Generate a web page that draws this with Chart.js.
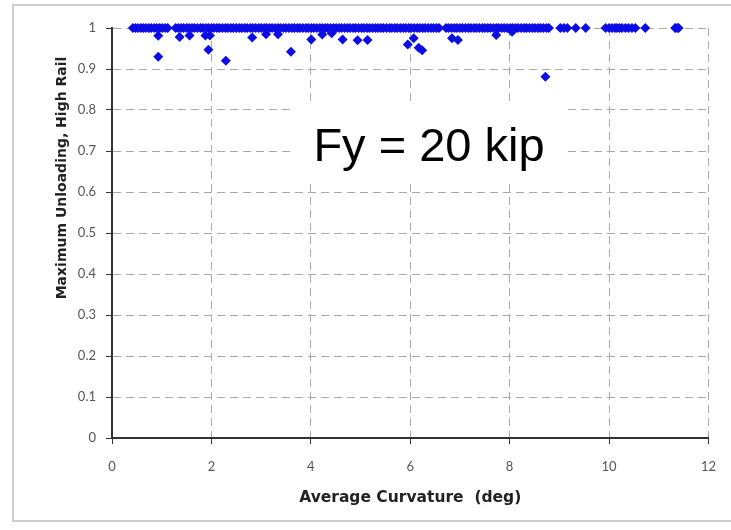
<!DOCTYPE html>
<html>
<head>
<meta charset="utf-8">
<title>Maximum Unloading vs Average Curvature</title>
<script src="https://cdn.jsdelivr.net/npm/chart.js@4.4.1/dist/chart.umd.min.js"></script>
<style>
  html, body { margin: 0; padding: 0; background: #fff; }
  canvas { display: block; }
</style>
</head>
<body>
<canvas id="unloadChart" width="731" height="530"></canvas>
<script>
'use strict';

// curvature (deg) of the runs that stayed at full unloading (1.0)
var bandCurv = [
  0.42, 0.47, 0.52, 0.58, 0.63, 0.68, 0.74, 0.79, 0.85, 0.90, 0.96, 1.01, 1.07, 1.12,
  1.28, 1.33, 1.39, 1.44, 1.50, 1.55, 1.61, 1.66, 1.72, 1.78, 1.83, 1.89, 1.94, 2.00,
  2.05, 2.11, 2.16, 2.22, 2.28, 2.33, 2.39, 2.44, 2.50, 2.56, 2.61, 2.67, 2.72, 2.78,
  2.83, 2.89, 2.95, 3.00, 3.06, 3.11, 3.17, 3.22, 3.28, 3.34, 3.39, 3.45, 3.50, 3.56,
  3.62, 3.67, 3.73, 3.78, 3.84, 3.90, 3.95, 4.01, 4.06, 4.12, 4.18, 4.23, 4.29, 4.34,
  4.40, 4.46, 4.51, 4.57, 4.62, 4.68, 4.74, 4.79, 4.85, 4.90, 4.96, 5.02, 5.07, 5.13,
  5.18, 5.24, 5.30, 5.35, 5.41, 5.46, 5.52, 5.58, 5.63, 5.69, 5.74, 5.80, 5.86, 5.91,
  5.97, 6.02, 6.08, 6.14, 6.19, 6.25, 6.30, 6.36, 6.42, 6.47, 6.53, 6.58, 6.72, 6.77,
  6.83, 6.89, 6.94, 7.00, 7.05, 7.11, 7.17, 7.22, 7.28, 7.33, 7.39, 7.45, 7.50, 7.56,
  7.61, 7.67, 7.73, 7.78, 7.84, 7.89, 7.95, 8.01, 8.06, 8.12, 8.17, 8.23, 8.29, 8.34,
  8.40, 8.46, 8.51, 8.57, 8.62, 8.68, 8.74, 8.79, 9.02, 9.09, 9.16, 9.33, 9.53, 9.93,
  10.00, 10.06, 10.12, 10.16, 10.21, 10.26, 10.33, 10.39, 10.46, 10.53, 10.73, 11.33,
  11.37, 11.40
];
var bandUnload = 1;

// runs that dropped below 1.0
var lowCurv = [
  0.93, 0.93, 1.36, 1.56, 1.88, 1.97, 1.94, 2.29, 2.82, 3.10, 3.34, 3.60, 4.01, 4.23,
  4.42, 4.64, 4.94, 5.14, 5.95, 6.07, 6.17, 6.24, 6.84, 6.96, 7.73, 8.05, 8.72
];
var lowUnload = [
  0.981, 0.930, 0.978, 0.982, 0.982, 0.982, 0.947, 0.920, 0.977, 0.985, 0.985, 0.942, 0.972, 0.984,
  0.987, 0.972, 0.970, 0.971, 0.960, 0.975, 0.952, 0.946, 0.975, 0.971, 0.983, 0.991, 0.881
];

var xTickLabels = ['0', '2', '4', '6', '8', '10', '12'];
var yTickLabels = ['0', '0.1', '0.2', '0.3', '0.4', '0.5', '0.6', '0.7', '0.8', '0.9', '1'];
var xTitle = 'Average Curvature  (deg)';
var yTitle = 'Maximum Unloading, High Rail';
var noteText = 'Fy = 20 kip';

var points = [];
for (var i = 0; i < bandCurv.length; i++) {
  points.push({x: bandCurv[i], y: bandUnload});
}
for (var j = 0; j < lowCurv.length; j++) {
  points.push({x: lowCurv[j], y: lowUnload[j]});
}

var tickFont = {family: 'Lato', size: 13};
var tickColor = '#555';
var gridColor = '#aaa';
var axisColor = '#333';

// outer frame, the white note box and the rotated y title
var extras = {
  id: 'extras',
  beforeDraw: function(chart) {
    var ctx = chart.ctx;
    ctx.save();
    ctx.fillStyle = '#fff';
    ctx.fillRect(0, 0, chart.width, chart.height);
    ctx.strokeStyle = '#cdcdcd';
    ctx.lineWidth = 2;
    ctx.strokeRect(13, 5, 760, 516);
    ctx.restore();
  },
  beforeDatasetsDraw: function(chart) {
    var ctx = chart.ctx;
    ctx.save();
    ctx.fillStyle = '#fff';
    ctx.fillRect(290, 103, 278, 77);
    ctx.fillStyle = '#000';
    ctx.font = '47px "Liberation Sans", Arial, sans-serif';
    ctx.textAlign = 'center';
    ctx.textBaseline = 'alphabetic';
    ctx.fillText(noteText, 429, 161);
    ctx.restore();
  },
  afterDraw: function(chart) {
    var ctx = chart.ctx;
    ctx.save();
    ctx.translate(62, 178);
    ctx.rotate(-Math.PI / 2);
    ctx.fillStyle = '#222';
    ctx.font = 'bold 14px "DejaVu Sans", sans-serif';
    ctx.textAlign = 'center';
    ctx.textBaseline = 'middle';
    ctx.fillText(yTitle, 0, 0);
    ctx.restore();
  }
};

var ctx = document.getElementById('unloadChart').getContext('2d');
var chart = new Chart(ctx, {
  type: 'scatter',
  data: {
    datasets: [{
      label: 'High rail',
      data: points,
      clip: false,
      pointStyle: 'rectRot',
      pointRadius: 5,
      pointBorderWidth: 0,
      backgroundColor: '#0c0ce6',
      borderColor: '#0c0ce6'
    }]
  },
  options: {
    responsive: false,
    devicePixelRatio: 1,
    animation: false,
    layout: {padding: {left: 0, right: 21, top: 28, bottom: 0}},
    plugins: {
      legend: {display: false},
      tooltip: {enabled: false}
    },
    scales: {
      x: {
        type: 'linear',
        min: 0,
        max: 12,
        afterFit: function(scale) { scale.height = 92; },
        ticks: {
          stepSize: 2,
          font: tickFont,
          color: tickColor,
          padding: 15,
          maxRotation: 0,
          callback: function(value, index) { return xTickLabels[index]; }
        },
        grid: {color: gridColor, lineWidth: 1, tickColor: axisColor, tickLength: 6, tickWidth: 1},
        border: {color: axisColor, width: 2, dash: [8, 5]},
        title: {
          display: true,
          text: xTitle,
          color: '#222',
          font: {family: 'DejaVu Sans', size: 15.5, weight: 'bold'},
          padding: {top: 0, bottom: 23}
        }
      },
      y: {
        type: 'linear',
        min: 0,
        max: 1,
        afterFit: function(scale) { scale.width = 112; },
        ticks: {
          stepSize: 0.1,
          font: tickFont,
          color: tickColor,
          padding: 10,
          callback: function(value, index) { return yTickLabels[index]; }
        },
        grid: {color: gridColor, lineWidth: 1, tickColor: axisColor, tickLength: 6, tickWidth: 1},
        border: {color: axisColor, width: 2, dash: [8, 5]}
      }
    }
  },
  plugins: [extras]
});
</script>
</body>
</html>
